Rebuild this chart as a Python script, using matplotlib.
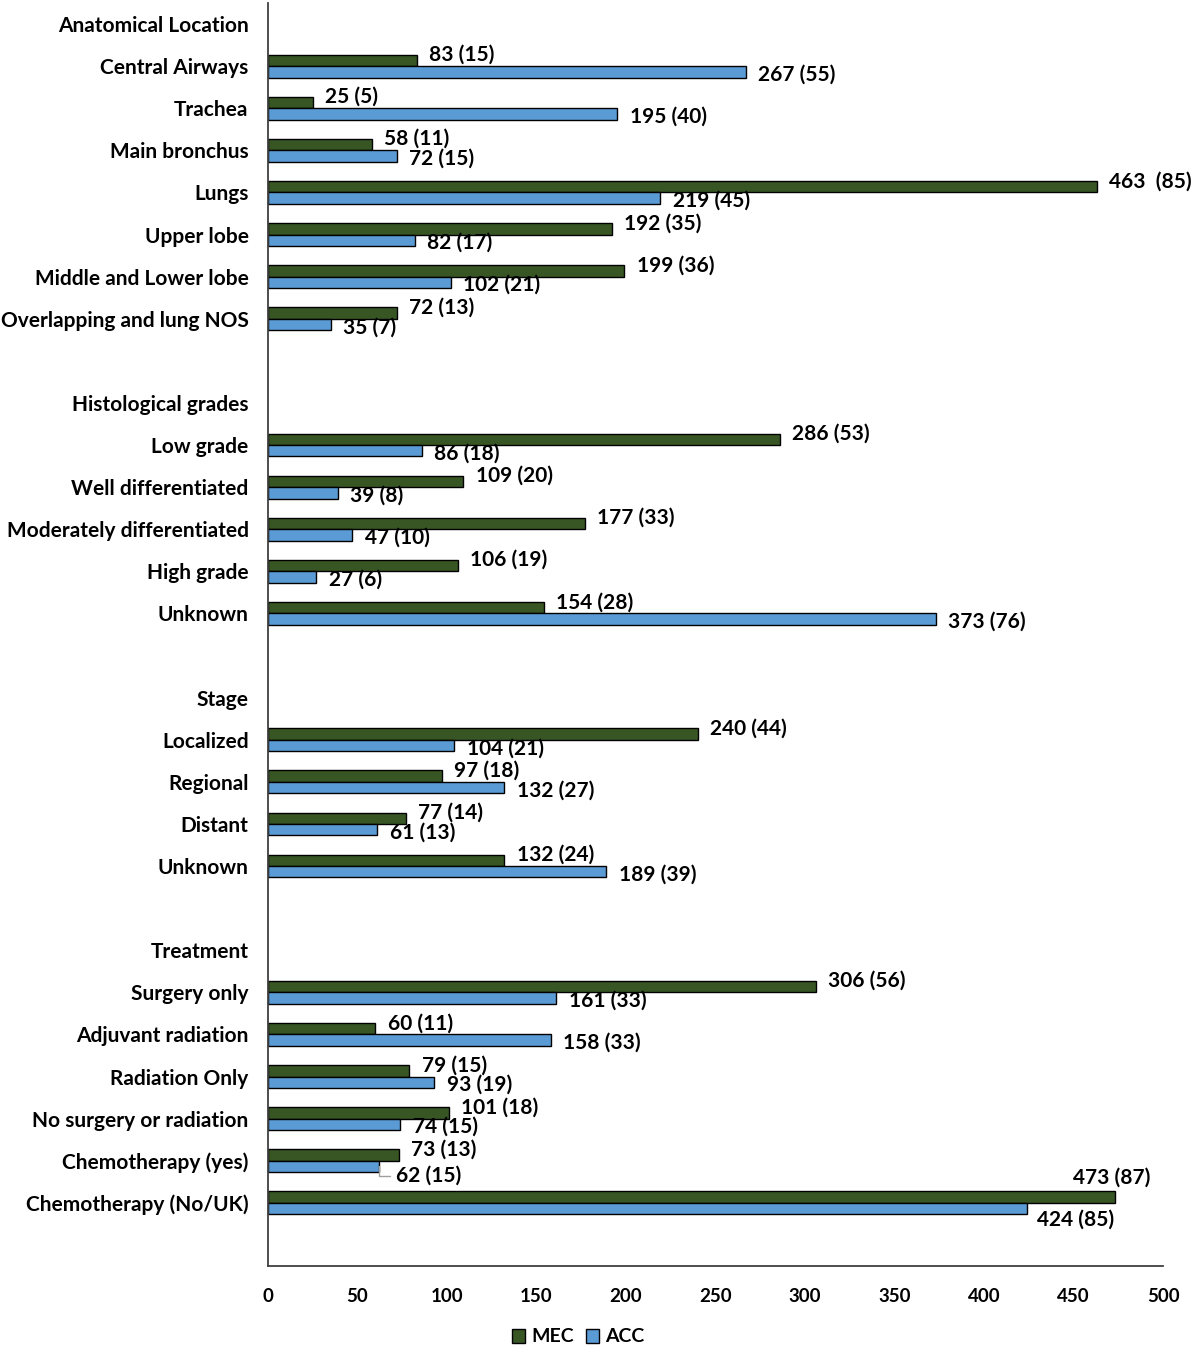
import matplotlib
matplotlib.use("Agg")
import matplotlib.pyplot as plt
from matplotlib.patches import Patch

plt.rcParams['font.family'] = ['Lato', 'DejaVu Sans']
plt.rcParams['font.weight'] = 'bold'

categories = [
    "Anatomical Location", "Central Airways", "Trachea", "Main bronchus", "Lungs",
    "Upper lobe", "Middle and Lower lobe", "Overlapping and lung NOS", "",
    "Histological grades", "Low grade", "Well differentiated", "Moderately differentiated",
    "High grade", "Unknown", "",
    "Stage", "Localized", "Regional", "Distant", "Unknown", "",
    "Treatment", "Surgery only", "Adjuvant radiation", "Radiation Only",
    "No surgery or radiation", "Chemotherapy (yes)", "Chemotherapy (No/UK)", "",
]
mec = [None, 83, 25, 58, 463, 192, 199, 72, None,
       None, 286, 109, 177, 106, 154, None,
       None, 240, 97, 77, 132, None,
       None, 306, 60, 79, 101, 73, 473, None]
acc = [None, 267, 195, 72, 219, 82, 102, 35, None,
       None, 86, 39, 47, 27, 373, None,
       None, 104, 132, 61, 189, None,
       None, 161, 158, 93, 74, 62, 424, None]
mec_labels = [None, "83 (15)", "25 (5)", "58 (11)", "463  (85)", "192 (35)", "199 (36)", "72 (13)", None,
              None, "286 (53)", "109 (20)", "177 (33)", "106 (19)", "154 (28)", None,
              None, "240 (44)", "97 (18)", "77 (14)", "132 (24)", None,
              None, "306 (56)", "60 (11)", "79 (15)", "101 (18)", "73 (13)", "473 (87)", None]
acc_labels = [None, "267 (55)", "195 (40)", "72 (15)", "219 (45)", "82 (17)", "102 (21)", "35 (7)", None,
              None, "86 (18)", "39 (8)", "47 (10)", "27 (6)", "373 (76)", None,
              None, "104 (21)", "132 (27)", "61 (13)", "189 (39)", None,
              None, "161 (33)", "158 (33)", "93 (19)", "74 (15)", "62 (15)", "424 (85)", None]

MEC_COLOR = "#375623"
ACC_COLOR = "#5B9BD5"

fig = plt.figure(figsize=(11.92, 13.52), dpi=100)
ax = fig.add_axes([268/1192, 1 - 1266/1352, (1163-268)/1192, (1266-3)/1352])

h = 0.27
n = len(categories)
for i in range(n):
    if mec[i] is not None:
        ax.barh(i - h/2, mec[i], height=h, color=MEC_COLOR, edgecolor="black", linewidth=1.0)
        ax.barh(i + h/2, acc[i], height=h, color=ACC_COLOR, edgecolor="black", linewidth=1.0)

fs = 15
kw = dict(textcoords="offset points", va="center", fontsize=fs, fontweight="bold")
for i in range(n):
    if mec[i] is None:
        continue
    cat = categories[i]
    if cat == "Chemotherapy (No/UK)":
        ax.annotate(mec_labels[i], (mec[i], i - h/2), xytext=(-2, 14), ha="center", **kw)
        ax.annotate(acc_labels[i], (acc[i], i + h/2), xytext=(35, -8), ha="center", **kw)
        continue
    ax.annotate(mec_labels[i], (mec[i], i - h/2), xytext=(9, 4), ha="left", **kw)
    if cat == "Chemotherapy (yes)":
        ax.annotate(acc_labels[i], (acc[i], i + h/2), xytext=(12, -7), ha="left",
                    arrowprops=dict(arrowstyle="-", color="#A0A0A0", lw=1,
                                    connectionstyle="angle,angleA=0,angleB=90", shrinkA=2, shrinkB=0),
                    **kw)
    else:
        ax.annotate(acc_labels[i], (acc[i], i + h/2), xytext=(9, -2), ha="left", **kw)

ax.set_ylim(n - 0.5, -0.5)
ax.set_xlim(0, 500)
ax.set_yticks(range(n))
ax.set_yticklabels(categories, fontsize=fs, fontweight="bold")
ax.set_xticks(range(0, 501, 50))
ax.tick_params(axis="y", length=0, pad=14)
ax.tick_params(axis="x", length=0, pad=16, labelsize=13.5)
for t in ax.get_xticklabels():
    t.set_fontweight("bold")
for s in ["top", "right"]:
    ax.spines[s].set_visible(False)
ax.spines["left"].set_color("#404040")
ax.spines["bottom"].set_color("#404040")
ax.spines["left"].set_linewidth(1.3)
ax.spines["bottom"].set_linewidth(1.3)

handles = [Patch(facecolor=MEC_COLOR, edgecolor="black", label="MEC"),
           Patch(facecolor=ACC_COLOR, edgecolor="black", label="ACC")]
fig.legend(handles=handles, loc="center", bbox_to_anchor=(578/1192, 1 - 1337/1352), ncol=2,
           frameon=False, handlelength=0.7, handleheight=0.7,
           handletextpad=0.3, columnspacing=0.6, prop={"weight": "bold", "size": 14})

fig.savefig("out.png", dpi=100)
